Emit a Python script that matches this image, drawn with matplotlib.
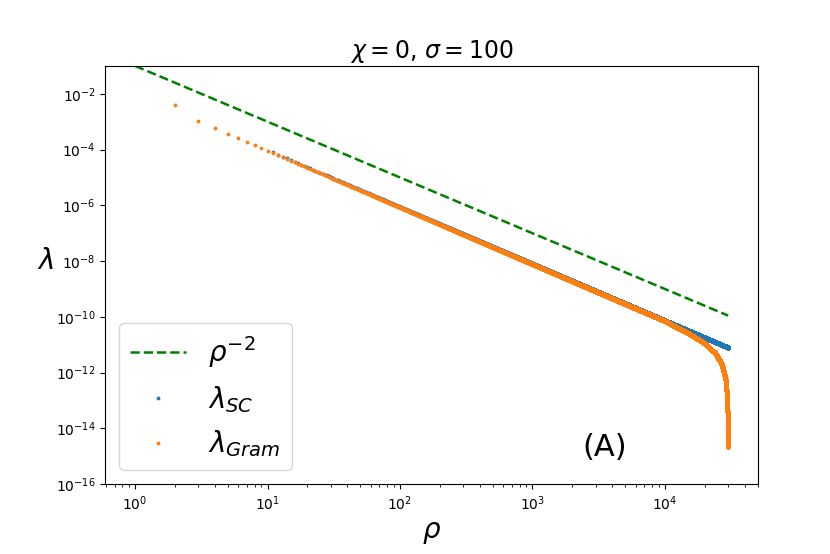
import numpy as np
from matplotlib import pyplot as plt
from matplotlib.ticker import LogLocator

# values (log10 rho, log10 lambda)
sc_logrho = [1.04, 4.477]
sc_loglam = [-4.1, -11.1]
gram_logrho = [0.301, 0.477, 1.04, 4.0, 4.2, 4.3, 4.38, 4.43, 4.46, 4.47, 4.476, 4.477]
gram_loglam = [-2.39, -2.97, -4.12, -10.15, -10.65, -10.95, -11.3, -11.7, -12.3, -13.0, -14.0, -14.65]
ref_rho = [1, 30000]
ref_coef = 0.1

rho_sc = np.arange(11, 30001)
lam_sc = 10 ** np.interp(np.log10(rho_sc), sc_logrho, sc_loglam)
rho_gr = np.arange(2, 30001)
lam_gr = 10 ** np.interp(np.log10(rho_gr), gram_logrho, gram_loglam)
rr = np.array(ref_rho, dtype=float)

fig = plt.figure(figsize=(8.3, 5.54), dpi=100)
ax = fig.add_axes([0.127, 0.126, 0.786, 0.755])
ax.plot(rr, ref_coef * rr ** -2.0, "g--", lw=1.8, label=r"$\rho^{-2}$")
ax.plot(rho_sc, lam_sc, ".", ms=3.5, color="C0", label=r"$\lambda_{SC}$")
ax.plot(rho_gr, lam_gr, ".", ms=3.5, color="C1", label=r"$\lambda_{Gram}$")
ax.set_xscale("log")
ax.set_yscale("log")
ax.set_ylim(1e-16, 1e-1)
ax.set_yticks([10.0 ** k for k in range(-16, -1, 2)])
ax.minorticks_off()
ax.set_xticks([10.0 ** k for k in range(0, 5)])
ax.xaxis.set_minor_locator(LogLocator(subs=np.arange(2, 10)))
ax.set_xlabel(r"$\rho$", fontsize=20)
ax.set_ylabel(r"$\lambda$", fontsize=20, rotation=0, labelpad=8)
ax.set_title(r"$\chi=0$, $\sigma=100$", fontsize=17)
ax.text(3500, 2e-15, "(A)", fontsize=22, ha="center", va="center")
ax.legend(loc="lower left", fontsize=20, markerscale=1)
plt.savefig("out.png")
